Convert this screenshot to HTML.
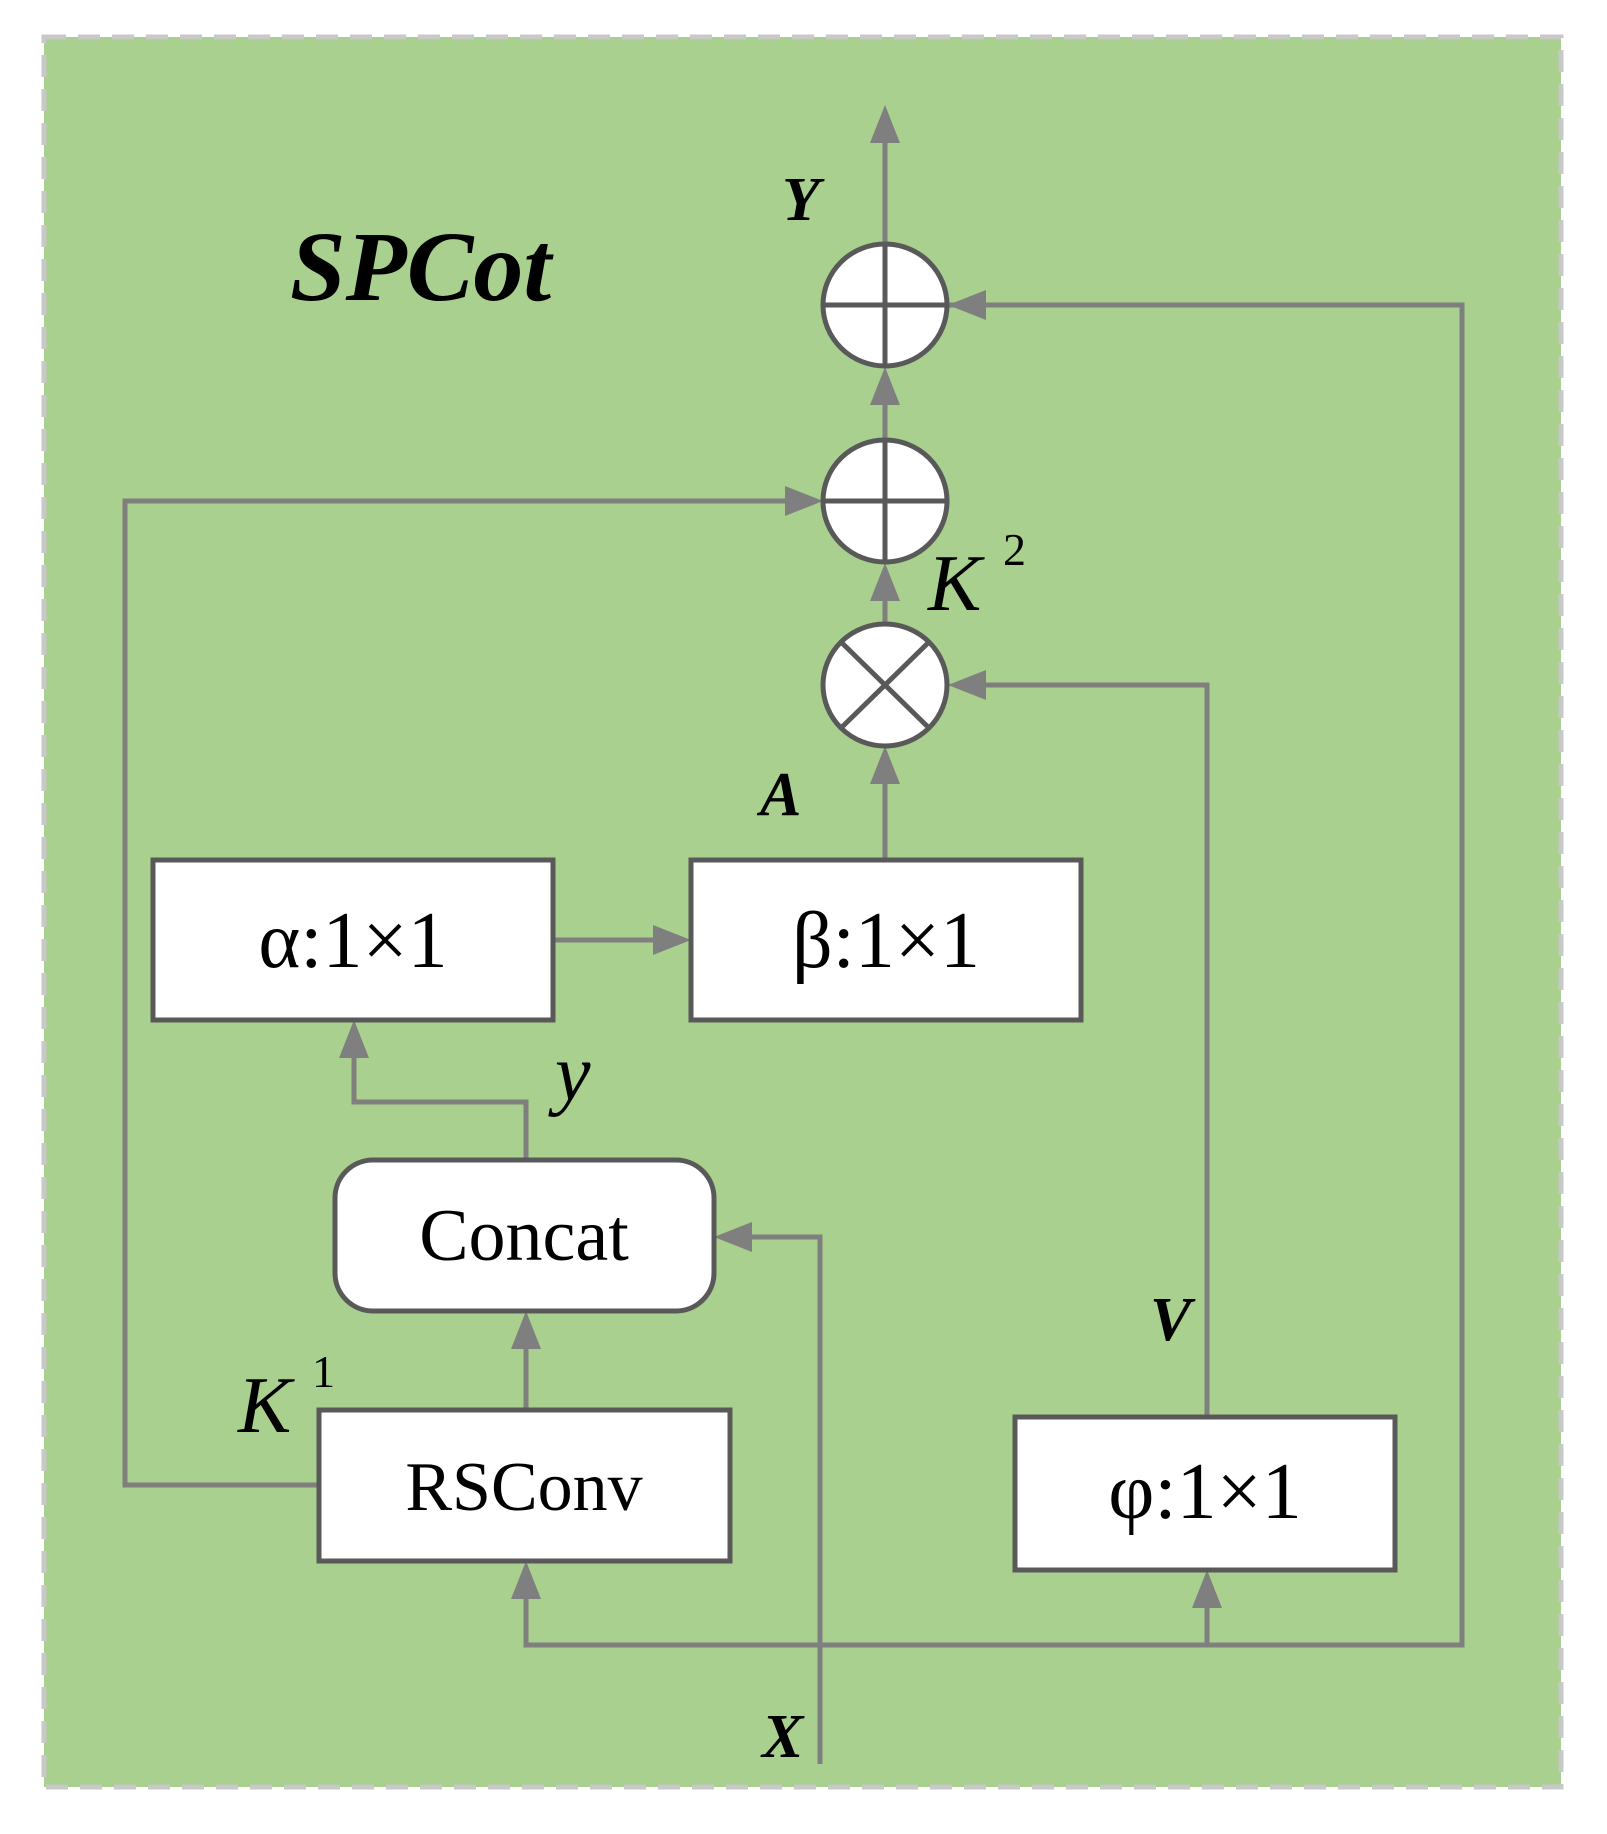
<!DOCTYPE html>
<html><head><style>html,body{margin:0;padding:0;background:#fff}</style></head><body>
<svg width="1607" height="1829" viewBox="0 0 1607 1829" xmlns="http://www.w3.org/2000/svg" font-family="Liberation Serif, serif">
<defs>
<marker id="a" viewBox="0 0 10 10" refX="10" refY="5" markerWidth="8" markerHeight="8" markerUnits="userSpaceOnUse" orient="auto" style="overflow:visible">
</marker>
</defs>
<rect x="44" y="37" width="1517" height="1750" fill="#a9d08e" stroke="#c8c8c8" stroke-width="5" stroke-dasharray="22,12"/>
<g stroke="#7f7f7f" stroke-width="5" fill="none">
<line x1="885" y1="243" x2="885" y2="130"/>
<polyline points="948,305 1462,305 1462,1645 526,1645 526,1590"/>
<line x1="1207" y1="1645" x2="1207" y2="1598"/>
<polyline points="319,1485 125,1485 125,501 800,501"/>
<line x1="885" y1="439" x2="885" y2="390"/>
<line x1="885" y1="623" x2="885" y2="585"/>
<line x1="885" y1="860" x2="885" y2="775"/>
<line x1="553" y1="940" x2="660" y2="940"/>
<polyline points="526,1160 526,1102 354,1102 354,1050"/>
<line x1="526" y1="1410" x2="526" y2="1340"/>
<polyline points="820,1764 820,1237 745,1237"/>
<polyline points="1207,1417 1207,685 978,685"/>
</g>
<g fill="#7f7f7f">
<polygon points="885,105 870,143 900,143"/>
<polygon points="948,305 986,290 986,320"/>
<polygon points="885,367 870,405 900,405"/>
<polygon points="823,501 785,486 785,516"/>
<polygon points="885,563 870,601 900,601"/>
<polygon points="948,685 986,670 986,700"/>
<polygon points="885,746 870,784 900,784"/>
<polygon points="691,940 653,925 653,955"/>
<polygon points="354,1020 339,1058 369,1058"/>
<polygon points="526,1311 511,1349 541,1349"/>
<polygon points="714,1237 752,1222 752,1252"/>
<polygon points="526,1561 511,1599 541,1599"/>
<polygon points="1207,1570 1192,1608 1222,1608"/>
</g>
<g stroke="#595959" stroke-width="5" fill="#fff">
<ellipse cx="885" cy="305" rx="62" ry="61"/>
<ellipse cx="885" cy="501" rx="62" ry="61"/>
<ellipse cx="885" cy="685" rx="62" ry="61"/>
<rect x="153" y="860" width="400" height="160"/>
<rect x="691" y="860" width="390" height="160"/>
<rect x="335" y="1160" width="379" height="151" rx="38"/>
<rect x="319" y="1410" width="411" height="151"/>
<rect x="1015" y="1417" width="380" height="153"/>
</g>
<g stroke="#595959" stroke-width="5">
<line x1="823" y1="305" x2="947" y2="305"/><line x1="885" y1="244" x2="885" y2="366"/>
<line x1="823" y1="501" x2="947" y2="501"/><line x1="885" y1="440" x2="885" y2="562"/>
<line x1="841" y1="642" x2="929" y2="728"/><line x1="929" y1="642" x2="841" y2="728"/>
</g>
<g fill="#000">
<text x="290" y="300" font-size="100" font-weight="bold" font-style="italic">SPCot</text>
<text x="782" y="220" font-size="62" font-weight="bold" font-style="italic">Y</text>
<text x="760" y="815" font-size="62" font-weight="bold" font-style="italic">A</text>
<text x="928" y="610" font-size="80" font-style="italic">K</text><text x="1003" y="565" font-size="46">2</text>
<text x="238" y="1432" font-size="80" font-style="italic">K</text><text x="312" y="1387" font-size="46">1</text>
<text x="555" y="1100" font-size="80" font-style="italic">y</text>
<text x="1150" y="1340" font-size="62" font-weight="bold" font-style="italic">V</text>
<text x="762" y="1757" font-size="62" font-weight="bold" font-style="italic">X</text>
<text x="353" y="967" font-size="80" text-anchor="middle">α:1×1</text>
<text x="886" y="967" font-size="80" text-anchor="middle">β:1×1</text>
<text x="524" y="1260" font-size="74" text-anchor="middle">Concat</text>
<text x="524" y="1510" font-size="70" text-anchor="middle">RSConv</text>
<text x="1205" y="1518" font-size="80" text-anchor="middle">φ:1×1</text>
</g>
</svg>
</body></html>
